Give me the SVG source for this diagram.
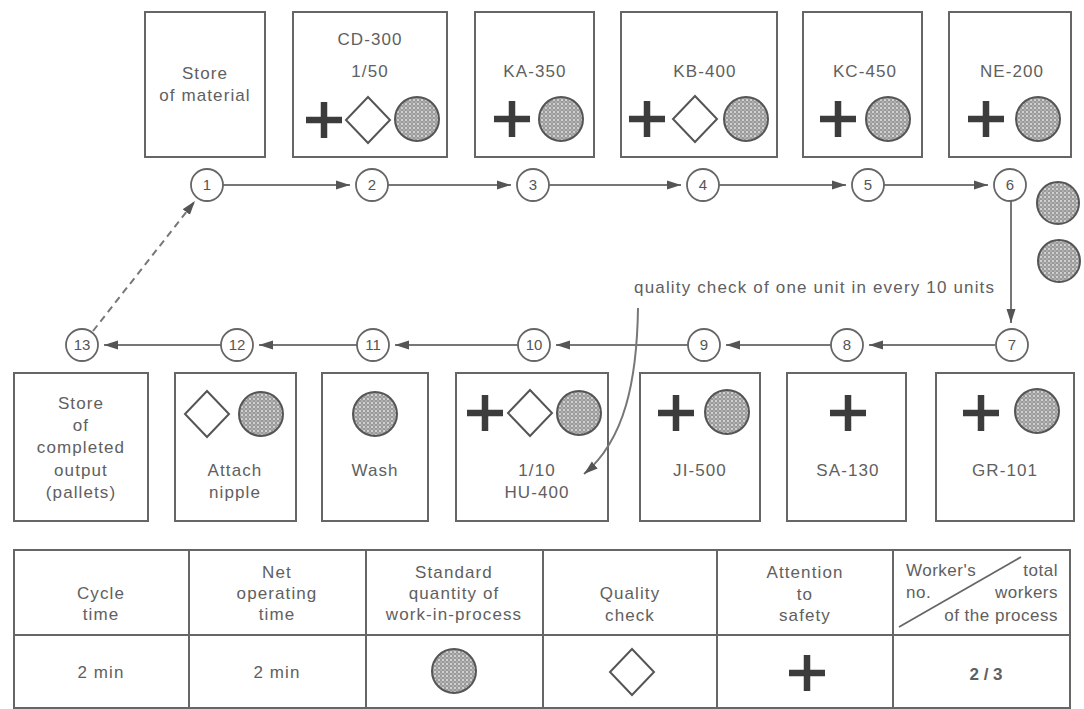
<svg xmlns="http://www.w3.org/2000/svg" xmlns:xlink="http://www.w3.org/1999/xlink" width="1084" height="709" viewBox="0 0 1084 709">
<defs>
<style>
.box{fill:#fff;stroke:#666;stroke-width:2}
.t{font-family:"Liberation Sans",Arial,sans-serif;font-size:17px;fill:#606060;text-anchor:middle;letter-spacing:1.1px}
.n{font-family:"Liberation Sans",Arial,sans-serif;font-size:15px;fill:#555;text-anchor:middle}
.step{fill:#fff;stroke:#666;stroke-width:1.8}
.wip{fill:url(#dots);stroke:#555;stroke-width:2}
.qc{fill:#fff;stroke:#555;stroke-width:2}
.plus{stroke:#3c3c3c;stroke-width:6.5;fill:none}
.conn{stroke:#777;stroke-width:2;fill:none;marker-end:url(#arr)}
.grid{stroke:#666;stroke-width:2;fill:none}
</style>
<pattern id="dots" width="4" height="4" patternUnits="userSpaceOnUse">
<rect width="4" height="4" fill="#9a9a9a"/>
<circle cx="1" cy="1" r="1" fill="#e2e2e2"/>
<circle cx="3" cy="3" r="0.8" fill="#c8c8c8"/>
</pattern>
<marker id="arr" markerUnits="userSpaceOnUse" markerWidth="14" markerHeight="10" refX="14" refY="5" orient="auto">
<path d="M0,0.5 L14,5 L0,9.5 z" fill="#555"/>
</marker>
<path id="plus" class="plus" d="M-18,0 H18 M0,-18 V18"/>
<polygon id="dia" class="qc" points="0,-23 22,0 0,23 -22,0"/>
<circle id="wipc" class="wip" r="22"/>
</defs>
<rect width="1084" height="709" fill="#fff"/>

<g id="top-boxes">
<g id="box1"><rect class="box" x="145" y="12" width="120" height="145"/>
<text class="t" x="205" y="79">Store</text><text class="t" x="205" y="101">of material</text></g>
<g id="box2"><rect class="box" x="293" y="12" width="154" height="145"/>
<text class="t" x="370" y="45">CD-300</text><text class="t" x="370" y="77">1/50</text>
<use href="#plus" x="324" y="120"/><use href="#dia" x="368" y="120"/><use href="#wipc" x="417" y="119"/></g>
<g id="box3"><rect class="box" x="475" y="12" width="119" height="145"/>
<text class="t" x="535" y="77">KA-350</text>
<use href="#plus" x="512" y="119"/><use href="#wipc" x="561" y="119"/></g>
<g id="box4"><rect class="box" x="621" y="12" width="156" height="145"/>
<text class="t" x="705" y="77">KB-400</text>
<use href="#plus" x="647" y="119"/><use href="#dia" x="695" y="119"/><use href="#wipc" x="746" y="119"/></g>
<g id="box5"><rect class="box" x="803" y="12" width="119" height="145"/>
<text class="t" x="865" y="77">KC-450</text>
<use href="#plus" x="838" y="119"/><use href="#wipc" x="888" y="119"/></g>
<g id="box6"><rect class="box" x="949" y="12" width="122" height="145"/>
<text class="t" x="1012" y="77">NE-200</text>
<use href="#plus" x="986" y="119"/><use href="#wipc" x="1038" y="119"/></g>
</g>

<g id="bottom-boxes">
<g id="box13"><rect class="box" x="14" y="373" width="134" height="148"/>
<text class="t" x="81" y="409">Store</text><text class="t" x="81" y="431">of</text><text class="t" x="81" y="453">completed</text><text class="t" x="81" y="476">output</text><text class="t" x="81" y="498">(pallets)</text></g>
<g id="box12"><rect class="box" x="175" y="373" width="121" height="148"/>
<use href="#dia" x="207" y="414"/><use href="#wipc" x="261" y="414"/>
<text class="t" x="235" y="476">Attach</text><text class="t" x="235" y="498">nipple</text></g>
<g id="box11"><rect class="box" x="322" y="373" width="106" height="148"/>
<use href="#wipc" x="375" y="414"/>
<text class="t" x="375" y="476">Wash</text></g>
<g id="box10"><rect class="box" x="456" y="373" width="152" height="148"/>
<use href="#plus" x="485" y="413"/><use href="#dia" x="530" y="413"/><use href="#wipc" x="579" y="413"/>
<text class="t" x="537" y="476">1/10</text><text class="t" x="537" y="498">HU-400</text></g>
<g id="box9"><rect class="box" x="640" y="373" width="120" height="148"/>
<use href="#plus" x="676" y="413"/><use href="#wipc" x="727" y="412"/>
<text class="t" x="700" y="476">JI-500</text></g>
<g id="box8"><rect class="box" x="787" y="373" width="119" height="148"/>
<use href="#plus" x="848" y="413"/>
<text class="t" x="848" y="476">SA-130</text></g>
<g id="box7"><rect class="box" x="936" y="373" width="138" height="148"/>
<use href="#plus" x="981" y="413"/><use href="#wipc" x="1037" y="411"/>
<text class="t" x="1005" y="476">GR-101</text></g>
</g>

<g id="connectors">
<line class="conn" x1="223" y1="185" x2="350" y2="185"/>
<line class="conn" x1="388" y1="185" x2="511" y2="185"/>
<line class="conn" x1="549" y1="185" x2="681" y2="185"/>
<line class="conn" x1="719" y1="185" x2="846" y2="185"/>
<line class="conn" x1="884" y1="185" x2="988" y2="185"/>
<line class="conn" x1="1011" y1="201" x2="1011" y2="323"/>
<line class="conn" x1="995" y1="345" x2="869" y2="345"/>
<line class="conn" x1="831" y1="345" x2="726" y2="345"/>
<line class="conn" x1="688" y1="345" x2="556" y2="345"/>
<line class="conn" x1="518" y1="345" x2="395" y2="345"/>
<line class="conn" x1="357" y1="345" x2="259" y2="345"/>
<line class="conn" x1="221" y1="345" x2="104" y2="345"/>
<line class="conn" x1="93" y1="331" x2="195" y2="201" stroke-dasharray="7,5"/>
<path class="conn" d="M638,308 C637,380 625,440 584,474"/>
</g>

<g id="steps">
<g id="s1"><circle class="step" cx="207" cy="185" r="16"/><text class="n" x="207" y="190">1</text></g>
<g id="s2"><circle class="step" cx="372" cy="185" r="16"/><text class="n" x="372" y="190">2</text></g>
<g id="s3"><circle class="step" cx="533" cy="185" r="16"/><text class="n" x="533" y="190">3</text></g>
<g id="s4"><circle class="step" cx="703" cy="185" r="16"/><text class="n" x="703" y="190">4</text></g>
<g id="s5"><circle class="step" cx="868" cy="185" r="16"/><text class="n" x="868" y="190">5</text></g>
<g id="s6"><circle class="step" cx="1010" cy="185" r="16"/><text class="n" x="1010" y="190">6</text></g>
<g id="s7"><circle class="step" cx="1012" cy="345" r="16"/><text class="n" x="1012" y="350">7</text></g>
<g id="s8"><circle class="step" cx="847" cy="345" r="16"/><text class="n" x="847" y="350">8</text></g>
<g id="s9"><circle class="step" cx="704" cy="345" r="16"/><text class="n" x="704" y="350">9</text></g>
<g id="s10"><circle class="step" cx="534" cy="345" r="16"/><text class="n" x="534" y="350">10</text></g>
<g id="s11"><circle class="step" cx="373" cy="345" r="16"/><text class="n" x="373" y="350">11</text></g>
<g id="s12"><circle class="step" cx="237" cy="345" r="16"/><text class="n" x="237" y="350">12</text></g>
<g id="s13"><circle class="step" cx="82" cy="345" r="16"/><text class="n" x="82" y="350">13</text></g>
</g>

<g id="wip-extra">
<circle class="wip" cx="1058" cy="203" r="21"/>
<circle class="wip" cx="1059" cy="261" r="21"/>
</g>

<g id="note"><text class="t" x="814" y="293" textLength="360" lengthAdjust="spacing" style="letter-spacing:0">quality check of one unit in every 10 units</text></g>

<g id="legend">
<rect class="grid" x="14" y="550" width="1056" height="158"/>
<line class="grid" x1="14" y1="635" x2="1070" y2="635"/>
<line class="grid" x1="189" y1="550" x2="189" y2="708"/>
<line class="grid" x1="366" y1="550" x2="366" y2="708"/>
<line class="grid" x1="543" y1="550" x2="543" y2="708"/>
<line class="grid" x1="717" y1="550" x2="717" y2="708"/>
<line class="grid" x1="893" y1="550" x2="893" y2="708"/>
<text class="t" x="101" y="599">Cycle</text><text class="t" x="101" y="620">time</text>
<text class="t" x="277" y="578">Net</text><text class="t" x="277" y="599">operating</text><text class="t" x="277" y="620">time</text>
<text class="t" x="454" y="578">Standard</text><text class="t" x="454" y="599">quantity of</text><text class="t" x="454" y="620">work-in-process</text>
<text class="t" x="630" y="599">Quality</text><text class="t" x="630" y="621">check</text>
<text class="t" x="805" y="578">Attention</text><text class="t" x="805" y="600">to</text><text class="t" x="805" y="621">safety</text>
<line x1="899" y1="627" x2="1021" y2="557" stroke="#666" stroke-width="1.8"/>
<text class="t" x="906" y="576" style="text-anchor:start;letter-spacing:0.5px">Worker's</text>
<text class="t" x="906" y="598" style="text-anchor:start;letter-spacing:0.5px">no.</text>
<text class="t" x="1058" y="576" style="text-anchor:end;letter-spacing:0.5px">total</text>
<text class="t" x="1058" y="598" style="text-anchor:end;letter-spacing:0.5px">workers</text>
<text class="t" x="1058" y="621" style="text-anchor:end;letter-spacing:0.5px">of the process</text>
<text class="t" x="101" y="678">2 min</text>
<text class="t" x="277" y="678">2 min</text>
<use href="#wipc" x="454" y="671"/>
<use href="#dia" x="632" y="672"/>
<use href="#plus" x="807" y="673"/>
<text class="t" x="986" y="680" style="font-weight:bold;letter-spacing:0">2 / 3</text>
</g>
</svg>
